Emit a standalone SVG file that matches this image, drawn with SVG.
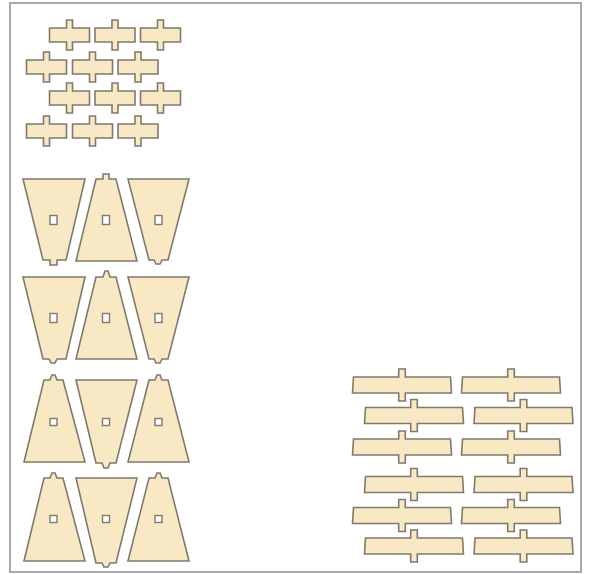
<svg xmlns="http://www.w3.org/2000/svg" width="590" height="574" viewBox="0 0 590 574">
<style>
.p{fill:#f8e8c4;stroke:#7f7a6c;stroke-width:1.6;stroke-linejoin:miter}
.h{fill:#fff;stroke:#7f7a6c;stroke-width:1.4}
#frame{fill:#fff;stroke:#a9a9a9;stroke-width:2}
</style>
<defs>
<filter id="soft" x="-2%" y="-2%" width="104%" height="104%"><feGaussianBlur stdDeviation="0.5"/></filter>
<path id="cross" class="p" d="M-20,-7 H-3 V-15 H3 V-7 H20 V7 H3 V15 H-3 V7 H-20 Z"/>
<path id="strip" class="p" d="M-48.500,-8 H-3.300 V-16 H3.300 V-8 H48.500 L49.500,8 H3.300 V16 H-3.300 V8 H-49.500 Z"/>
</defs>
<g filter="url(#soft)">
<rect id="frame" x="10" y="3" width="571" height="569"/>
<g id="small-parts">
<use href="#cross" x="69.500" y="35"/><use href="#cross" x="115" y="35"/><use href="#cross" x="160.500" y="35"/>
<use href="#cross" x="46.500" y="67"/><use href="#cross" x="92.500" y="67"/><use href="#cross" x="138" y="67"/>
<use href="#cross" x="69.500" y="98"/><use href="#cross" x="115" y="98"/><use href="#cross" x="160.500" y="98"/>
<use href="#cross" x="46.500" y="131"/><use href="#cross" x="92.500" y="131"/><use href="#cross" x="138" y="131"/>
</g>
<g id="trapezoids">
<path class="p" d="M23,179 H85 L66,260 H57 V265 H50 V260 H43 Z"/>
<path class="p" d="M76,261 L96,179 H103 V174 H109 V179 H116 L137,261 Z"/>
<path class="p" d="M128,179 H189 L168,260 H162 L160,264 H156 L154,260 H149 Z"/>
<path class="p" d="M23,277 H85 L66,359 H57 L55,363 H51 L49,359 H43 Z"/>
<path class="p" d="M76,359 L96,277 H103 L105,271 H108 L110,277 H116 L137,359 Z"/>
<path class="p" d="M128,277 H189 L168,359 H162 L160,363 H156 L154,359 H149 Z"/>
<path class="p" d="M24,462 L44,380 H50 L52,375 H55 L57,380 H63 L85,462 Z"/>
<path class="p" d="M76,380 H137 L116,463 H110 L108,468 H104 L102,463 H96 Z"/>
<path class="p" d="M128,462 L149,380 H155 L157,375 H160 L162,380 H168 L189,462 Z"/>
<path class="p" d="M24,561 L44,478 H50 L52,473 H55 L57,478 H63 L85,561 Z"/>
<path class="p" d="M76,478 H137 L116,563 H110 L108,567 H104 L102,563 H96 Z"/>
<path class="p" d="M128,561 L149,478 H155 L157,473 H160 L162,478 H168 L189,561 Z"/>
<rect class="h" x="50" y="215.500" width="7" height="9"/><rect class="h" x="102.500" y="215.500" width="7" height="9"/><rect class="h" x="155" y="215.500" width="7" height="9"/>
<rect class="h" x="50" y="313.500" width="7" height="9"/><rect class="h" x="102.500" y="313.500" width="7" height="9"/><rect class="h" x="155" y="313.500" width="7" height="9"/>
<rect class="h" x="50" y="418.500" width="7" height="7"/><rect class="h" x="102.500" y="418.500" width="7" height="7"/><rect class="h" x="155" y="418.500" width="7" height="7"/>
<rect class="h" x="50" y="515.500" width="7" height="7"/><rect class="h" x="102.500" y="515.500" width="7" height="7"/><rect class="h" x="155" y="515.500" width="7" height="7"/>
</g>
<g id="strips">
<use href="#strip" x="402" y="385"/><use href="#strip" x="511" y="385"/>
<use href="#strip" x="414" y="415.500"/><use href="#strip" x="523.500" y="415.500"/>
<use href="#strip" x="402" y="447"/><use href="#strip" x="511" y="447"/>
<use href="#strip" x="414" y="484.500"/><use href="#strip" x="523.500" y="484.500"/>
<use href="#strip" x="402" y="515.500"/><use href="#strip" x="511" y="515.500"/>
<use href="#strip" x="414" y="546"/><use href="#strip" x="523.500" y="546"/>
</g>
</g>
</svg>
